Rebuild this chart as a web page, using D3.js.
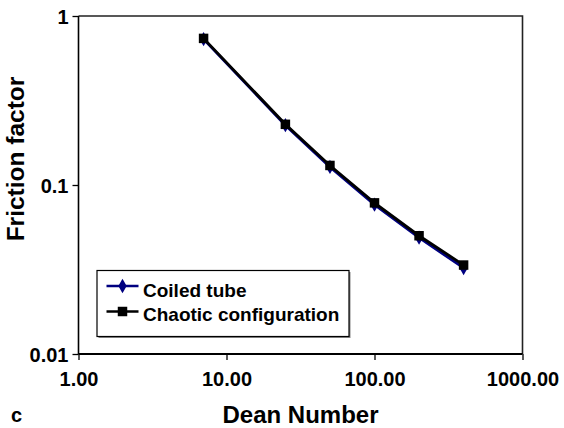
<!DOCTYPE html>
<html>
<head>
<meta charset="utf-8">
<script src="https://cdn.jsdelivr.net/npm/d3@7"></script>
<style>
  html, body { margin: 0; padding: 0; background: #fff; }
  svg { display: block; }
  text { font-family: "Liberation Sans", Arial, Helvetica, sans-serif; font-weight: bold; fill: #000; }
</style>
</head>
<body>
<script>
// Dean number at each measurement point
const deanNumbers = [7, 25, 50, 100, 200, 400];
// Friction factor for each geometry
const coiledTube = [0.73, 0.226, 0.128, 0.0765, 0.0488, 0.0323];
const chaoticConfig = [0.737, 0.2286, 0.1305, 0.0784, 0.0501, 0.0336];
const seriesNames = ["Coiled tube", "Chaotic configuration"];
// Axis ticks
const xTicks = [1, 10, 100, 1000];
const xTickLabels = ["1.00", "10.00", "100.00", "1000.00"];
const yTicks = [0.01, 0.1, 1];
const yTickLabels = ["0.01", "0.1", "1"];

const W = 564, H = 428;
const plotL = 78.5, plotR = 522.5, plotT = 16, plotB = 354;

const svg = d3.select("body").append("svg").attr("width", W).attr("height", H);

const x = d3.scaleLog().domain([1, 1000]).range([plotL, plotR]);
const y = d3.scaleLog().domain([0.01, 1]).range([plotB, plotT]);

// Plot frame (top and right edges)
svg.append("path")
  .attr("d", `M${plotL},${plotT}H${plotR}V${plotB}`)
  .attr("fill", "none").attr("stroke", "#222").attr("stroke-width", 1.6);

// X axis
const xAxis = svg.append("g").attr("transform", `translate(0,${plotB})`)
  .call(d3.axisBottom(x).tickValues(xTicks).tickSize(6)
    .tickFormat((d, i) => xTickLabels[i]));
xAxis.select(".domain").attr("stroke", "#000").attr("stroke-width", 2)
  .attr("d", `M${plotL},0H${plotR}`);
xAxis.selectAll(".tick line").attr("stroke", "#000").attr("stroke-width", 1.3);
xAxis.selectAll(".tick text")
  .attr("y", 32).attr("dy", 0)
  .style("font-size", "20px").style("font-weight", "bold")
  .style("font-family", "'Liberation Sans', Arial, sans-serif").attr("fill", "#000");

// Y axis
const yAxis = svg.append("g").attr("transform", `translate(${plotL},0)`)
  .call(d3.axisLeft(y).tickValues(yTicks).tickSize(6)
    .tickFormat((d, i) => yTickLabels[i]));
yAxis.select(".domain").attr("stroke", "#000").attr("stroke-width", 1.6)
  .attr("d", `M0,${plotT}V${plotB}`);
yAxis.selectAll(".tick line").attr("stroke", "#000").attr("stroke-width", 1.3);
yAxis.selectAll(".tick text")
  .attr("x", -10).attr("dy", "0.36em")
  .style("font-size", "20px").style("font-weight", "bold")
  .style("font-family", "'Liberation Sans', Arial, sans-serif").attr("fill", "#000");

// Series
const line = d3.line().x(d => x(d[0])).y(d => y(d[1]));
const coiledPts = deanNumbers.map((d, i) => [d, coiledTube[i]]);
const chaoticPts = deanNumbers.map((d, i) => [d, chaoticConfig[i]]);

const diamond = d3.symbol().type(d3.symbolDiamond).size(60);
const square = d3.symbol().type(d3.symbolSquare).size(90);

svg.append("path").datum(coiledPts).attr("d", line)
  .attr("fill", "none").attr("stroke", "#000080").attr("stroke-width", 2.8);
svg.selectAll(".coiled").data(coiledPts).join("path").attr("class", "coiled")
  .attr("transform", d => `translate(${x(d[0])},${y(d[1])})`)
  .attr("d", diamond).attr("fill", "#000080");

svg.append("path").datum(chaoticPts).attr("d", line)
  .attr("fill", "none").attr("stroke", "#000").attr("stroke-width", 2.8);
svg.selectAll(".chaotic").data(chaoticPts).join("path").attr("class", "chaotic")
  .attr("transform", d => `translate(${x(d[0])},${y(d[1])})`)
  .attr("d", square).attr("fill", "#000");

// Legend
const lg = svg.append("g");
lg.append("rect").attr("x", 98.5).attr("y", 272).attr("width", 252).attr("height", 66)
  .attr("fill", "#888");
lg.append("rect").attr("x", 97).attr("y", 270.5).attr("width", 252).attr("height", 66)
  .attr("fill", "#fff").attr("stroke", "#000").attr("stroke-width", 1.2);
const legendRows = [
  { name: seriesNames[0], color: "#000080", sym: diamond, ly: 286, ty: 296.5 },
  { name: seriesNames[1], color: "#000", sym: square, ly: 311.5, ty: 320.5 }
];
legendRows.forEach(r => {
  lg.append("line").attr("x1", 106.5).attr("x2", 138.5).attr("y1", r.ly).attr("y2", r.ly)
    .attr("stroke", r.color).attr("stroke-width", 2.4);
  lg.append("path").attr("transform", `translate(122.5,${r.ly})`).attr("d", r.sym).attr("fill", r.color);
  lg.append("text").attr("x", 143).attr("y", r.ty).style("font-size", "19px").text(r.name);
});

// Axis titles
svg.append("text").attr("x", (plotL + plotR) / 2).attr("y", 423)
  .attr("text-anchor", "middle").style("font-size", "24px").text("Dean Number");
svg.append("text").attr("transform", "translate(23.5,159) rotate(-90)")
  .attr("text-anchor", "middle").style("font-size", "24.5px").text("Friction factor");
// Panel letter
svg.append("text").attr("x", 11).attr("y", 422).style("font-size", "20px").text("c");
</script>
</body>
</html>
